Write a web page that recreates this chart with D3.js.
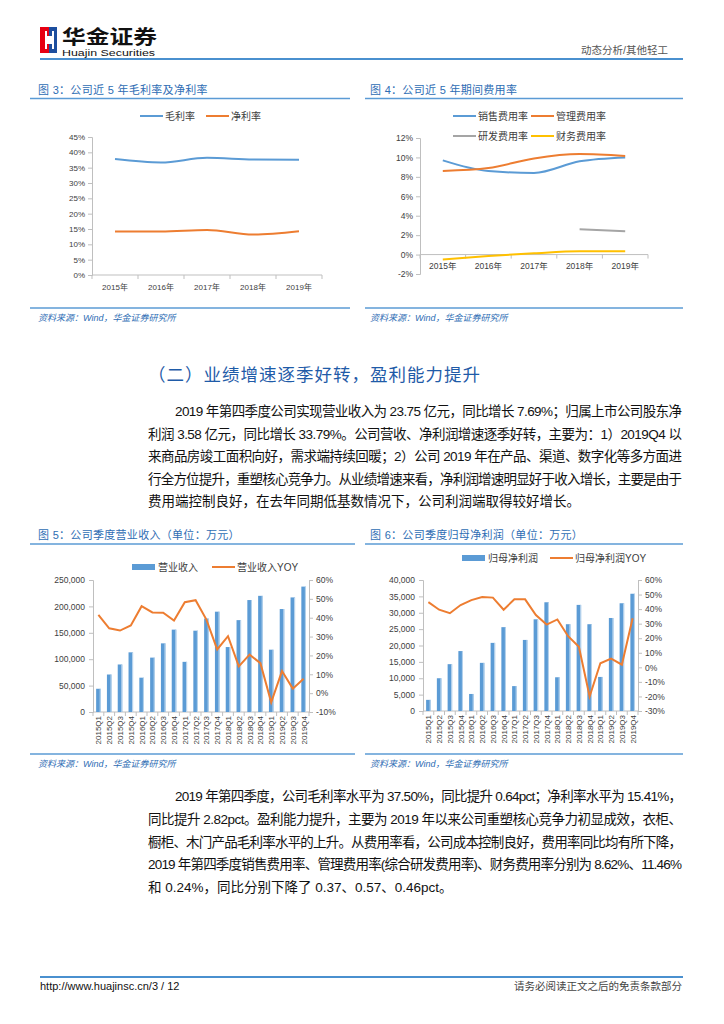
<!DOCTYPE html>
<html><head><meta charset="utf-8">
<script src="https://cdn.jsdelivr.net/npm/d3@7"></script>
<style>
html,body{margin:0;padding:0;background:#fff;}
svg{display:block;font-family:"Liberation Sans","Noto Sans CJK SC",sans-serif;}
</style></head>
<body>
<script>
// ---------- DATA ----------
const years = ["2015年","2016年","2017年","2018年","2019年"];
const grossMargin = [37.8, 36.7, 38.2, 37.7, 37.6];
const netMargin = [14.2, 14.2, 14.7, 13.2, 14.3];
const marginTicks = [0,5,10,15,20,25,30,35,40,45];

const sellingRate = [9.7, 8.6, 8.4, 9.6, 10.0];
const adminRate = [8.6, 8.9, 9.9, 10.35, 10.15];
const rdRate = [null, null, null, 2.6, 2.4];
const financeRate = [-0.5, -0.15, 0.13, 0.33, 0.33];
const expenseTicks = [-2,0,2,4,6,8,10,12];

const quarters = ["2015Q1","2015Q2","2015Q3","2015Q4","2016Q1","2016Q2","2016Q3","2016Q4",
  "2017Q1","2017Q2","2017Q3","2017Q4","2018Q1","2018Q2","2018Q3","2018Q4",
  "2019Q1","2019Q2","2019Q3","2019Q4"];
const revenue = [44000,71000,90000,113000,65000,103000,130000,156000,95000,154000,177000,190000,
  123000,174000,212000,220000,118000,195000,217000,237500];
const revenueYoy = [41.5,34.4,33.2,35.9,46.1,42.8,42.6,38.5,48.2,49.3,39.0,23.2,30.2,14.2,20.4,15.9,-4.9,11.7,2.4,7.69];
const revenueTicks = [0,50000,100000,150000,200000,250000];
const revenueYoyTicks = [-10,0,10,20,30,40,50,60];

const netProfit = [3400,10000,14300,18300,5200,14700,20800,25600,7600,21700,28000,33200,
  10300,26500,32400,26500,10400,28400,32900,35800];
const netProfitYoy = [44.8,39.6,37.2,42.8,46.2,48.3,47.9,39.6,46.7,46.7,35.9,29.4,32.9,21.4,14.1,-20.0,2.8,6.0,1.8,33.79];
const profitTicks = [0,5000,10000,15000,20000,25000,30000,35000,40000];
const profitYoyTicks = [-30,-20,-10,0,10,20,30,40,50,60];

// ---------- STYLE ----------
const BLUE = "#5B9BD5", ORANGE = "#ED7D31", GREY = "#A5A5A5", YELLOW = "#FFC000";
const TITLE = "#2E6DB4", AXIS = "#BFBFBF", LABEL = "#404040";

const svg = d3.select("body").append("svg").attr("width",724).attr("height",1024);

// ---------- HEADER ----------
svg.append("rect").attr("x",40).attr("y",27).attr("width",9).attr("height",26).attr("fill","#E60012");
svg.append("rect").attr("x",49).attr("y",27).attr("width",8).attr("height",26).attr("fill","#1D4E9E");
svg.append("rect").attr("x",47).attr("y",36).attr("width",5).attr("height",8).attr("fill","#fff");
svg.append("rect").attr("x",45).attr("y",31).attr("width",2).attr("height",18).attr("fill","#fff");
svg.append("rect").attr("x",52).attr("y",31).attr("width",2).attr("height",18).attr("fill","#fff");
svg.append("text").attr("x",62).attr("y",44).attr("font-size",19).attr("font-weight","bold")
  .attr("fill","#111").attr("textLength",95).attr("lengthAdjust","spacingAndGlyphs").text("华金证券");
svg.append("text").attr("x",62).attr("y",55.5).attr("font-size",8.5).attr("fill","#111")
  .attr("textLength",93).attr("lengthAdjust","spacingAndGlyphs").text("Huajin Securities");
svg.append("text").attr("x",668).attr("y",54).attr("font-size",10.5).attr("fill","#555")
  .attr("text-anchor","end").text("动态分析/其他轻工");
svg.append("line").attr("x1",40).attr("x2",683).attr("y1",59).attr("y2",59)
  .attr("stroke","#4A90CF").attr("stroke-width",2);

// ---------- HELPERS ----------
function title(x,y,t){
  svg.append("text").attr("x",x).attr("y",y).attr("font-size",11).attr("fill",TITLE)
    .attr("letter-spacing",0.3).text(t);
}
function rule(x1,x2,y){
  svg.append("line").attr("x1",x1).attr("x2",x2).attr("y1",y).attr("y2",y)
    .attr("stroke",BLUE).attr("stroke-width",1.5);
}
function source(x,y){
  svg.append("text").attr("x",x).attr("y",y).attr("font-size",9).attr("fill","#2E6DB4")
    .attr("font-style","italic").text("资料来源：Wind，华金证券研究所");
}
function legendLine(x,y,color,label){
  svg.append("line").attr("x1",x).attr("x2",x+23).attr("y1",y).attr("y2",y)
    .attr("stroke",color).attr("stroke-width",2);
  svg.append("text").attr("x",x+25).attr("y",y+3.5).attr("font-size",10).attr("fill",LABEL).text(label);
}
function legendRect(x,y,color,label){
  svg.append("rect").attr("x",x).attr("y",y-3).attr("width",23).attr("height",6).attr("fill",color);
  svg.append("text").attr("x",x+26).attr("y",y+3.5).attr("font-size",10).attr("fill",LABEL).text(label);
}
function styleAxis(g,fs){
  g.select(".domain").attr("stroke",AXIS);
  g.selectAll(".tick line").attr("stroke",AXIS);
  g.selectAll(".tick text").attr("fill",LABEL).attr("font-size",fs)
    .attr("font-family","Liberation Sans, Noto Sans CJK SC, sans-serif");
}
function bandAxis(xs, y, cats, x0, x1){
  svg.append("line").attr("x1",x0).attr("x2",x1).attr("y1",y).attr("y2",y).attr("stroke",AXIS);
  const bounds = cats.map(c=>xs(c)).concat([x1]);
  svg.selectAll(null).data(bounds).enter().append("line")
    .attr("x1",d=>d).attr("x2",d=>d).attr("y1",y).attr("y2",y+4).attr("stroke",AXIS);
}

// ---------- CHART 3 ----------
title(38,94,"图 3：公司近 5 年毛利率及净利率");
rule(30,350,98.5);
legendLine(140,116,BLUE,"毛利率");
legendLine(206,116,ORANGE,"净利率");
{
  const x = d3.scaleBand().domain(years).range([92,322]);
  const y = d3.scaleLinear().domain([0,45]).range([275,137]);
  const g = svg.append("g").attr("transform","translate(92,0)")
    .call(d3.axisLeft(y).tickValues(marginTicks).tickFormat(d=>d+"%").tickSize(4).tickPadding(3));
  styleAxis(g,8);
  bandAxis(x,275,years,92,322);
  svg.selectAll(null).data(years).enter().append("text")
    .attr("x",d=>x(d)+x.bandwidth()/2).attr("y",290).attr("text-anchor","middle")
    .attr("font-size",8).attr("fill",LABEL).text(d=>d);
  const line = d3.line().x((d,i)=>x(years[i])+x.bandwidth()/2).y(d=>y(d)).curve(d3.curveMonotoneX);
  [[grossMargin,BLUE],[netMargin,ORANGE]].forEach(([s,c])=>{
    svg.append("path").attr("d",line(s)).attr("fill","none").attr("stroke",c).attr("stroke-width",2);
  });
}
rule(30,350,308);
source(38,321);

// ---------- CHART 4 ----------
title(370,94,"图 4：公司近 5 年期间费用率");
rule(365,683,98.5);
legendLine(453,116,BLUE,"销售费用率");
legendLine(531,116,ORANGE,"管理费用率");
legendLine(453,136,GREY,"研发费用率");
legendLine(531,136,YELLOW,"财务费用率");
{
  const x = d3.scaleBand().domain(years).range([420,648]);
  const y = d3.scaleLinear().domain([-2,12]).range([274,138]);
  const g = svg.append("g").attr("transform","translate(420,0)")
    .call(d3.axisLeft(y).tickValues(expenseTicks).tickFormat(d=>d+"%").tickSize(4).tickPadding(3));
  styleAxis(g,8.5);
  bandAxis(x,y(0),years,420,648);
  svg.selectAll(null).data(years).enter().append("text")
    .attr("x",d=>x(d)+x.bandwidth()/2).attr("y",y(0)+14).attr("text-anchor","middle")
    .attr("font-size",8.5).attr("fill",LABEL).text(d=>d);
  const line = d3.line().defined(d=>d!=null)
    .x((d,i)=>x(years[i])+x.bandwidth()/2).y(d=>y(d)).curve(d3.curveMonotoneX);
  [[sellingRate,BLUE],[adminRate,ORANGE],[rdRate,GREY],[financeRate,YELLOW]].forEach(([s,c])=>{
    svg.append("path").attr("d",line(s)).attr("fill","none").attr("stroke",c).attr("stroke-width",2);
  });
}
rule(365,683,308);
source(370,321);

// ---------- SECTION HEADING ----------
svg.append("text").attr("x",148).attr("y",381).attr("font-size",17.5).attr("fill","#1F5BA8")
  .attr("textLength",332).attr("lengthAdjust","spacing").text("（二）业绩增速逐季好转，盈利能力提升");

// ---------- PARAGRAPHS ----------
function para(lines, ys){
  lines.forEach((t,i)=>{
    const first = i===0, last = i===lines.length-1;
    const x0 = first?175:148;
    const tx = svg.append("text").attr("x",x0).attr("y",ys[i]).attr("font-size",13.5).attr("fill","#111").text(t);
    if(!last) tx.attr("textLength",682-x0).attr("lengthAdjust","spacing");
  });
}
para([
  "2019 年第四季度公司实现营业收入为 23.75 亿元，同比增长 7.69%；归属上市公司股东净",
  "利润 3.58 亿元，同比增长 33.79%。公司营收、净利润增速逐季好转，主要为：1）2019Q4 以",
  "来商品房竣工面积向好，需求端持续回暖；2）公司 2019 年在产品、渠道、数字化等多方面进",
  "行全方位提升，重塑核心竞争力。从业绩增速来看，净利润增速明显好于收入增长，主要是由于",
  "费用端控制良好，在去年同期低基数情况下，公司利润端取得较好增长。"
],[416,438.5,461,483.5,506]);

para([
  "2019 年第四季度，公司毛利率水平为 37.50%，同比提升 0.64pct；净利率水平为 15.41%，",
  "同比提升 2.82pct。盈利能力提升，主要为 2019 年以来公司重塑核心竞争力初显成效，衣柜、",
  "橱柜、木门产品毛利率水平的上升。从费用率看，公司成本控制良好，费用率同比均有所下降，",
  "2019 年第四季度销售费用率、管理费用率(综合研发费用率)、财务费用率分别为 8.62%、11.46%",
  "和 0.24%，同比分别下降了 0.37、0.57、0.46pct。"
],[801,824,846.5,869,891.5]);

// ---------- BAR+LINE CHART HELPER ----------
function comboChart(o){
  const x = d3.scaleBand().domain(quarters).range([o.x0,o.x1]);
  const yL = d3.scaleLinear().domain([o.lTicks[0],o.lTicks[o.lTicks.length-1]]).range([o.yb,o.yt]);
  const yR = d3.scaleLinear().domain([o.rTicks[0],o.rTicks[o.rTicks.length-1]]).range([o.yb,o.yt]);
  const gl = svg.append("g").attr("transform",`translate(${o.x0},0)`)
    .call(d3.axisLeft(yL).tickValues(o.lTicks).tickFormat(d3.format(",")).tickSize(4).tickPadding(4));
  styleAxis(gl,8.5);
  const gr = svg.append("g").attr("transform",`translate(${o.x1},0)`)
    .call(d3.axisRight(yR).tickValues(o.rTicks).tickFormat(d=>d+"%").tickSize(4).tickPadding(3));
  styleAxis(gr,8.5);
  bandAxis(x,o.yb,quarters,o.x0,o.x1);
  const bw = x.bandwidth()*0.42;
  const cx = d=>x(d)+x.bandwidth()/2;
  svg.selectAll(null).data(o.bars).enter().append("rect")
    .attr("x",(d,i)=>cx(quarters[i])-bw/2).attr("y",d=>yL(d)).attr("width",bw)
    .attr("height",d=>o.yb-yL(d)).attr("fill",BLUE);
  svg.selectAll(null).data(o.bars).enter().append("rect")
    .attr("x",(d,i)=>cx(quarters[i])+bw/2-1).attr("y",d=>yL(d)).attr("width",1)
    .attr("height",d=>o.yb-yL(d)).attr("fill","#BDD7EE");
  const line = d3.line().x((d,i)=>cx(quarters[i])).y(d=>yR(d));
  svg.append("path").attr("d",line(o.yoy)).attr("fill","none").attr("stroke",ORANGE).attr("stroke-width",2);
  svg.selectAll(null).data(quarters).enter().append("text")
    .attr("transform",d=>`translate(${cx(d)+3},${o.yb+4}) rotate(-90)`)
    .attr("text-anchor","end").attr("font-size",8).attr("fill",LABEL).text(d=>d);
}

// ---------- CHART 5 ----------
title(38,539,"图 5：公司季度营业收入（单位：万元）");
rule(30,355,544);
legendRect(132,567,BLUE,"营业收入");
legendLine(212,567,ORANGE,"营业收入YOY");
comboChart({x0:93,x1:309,yt:580,yb:712,bars:revenue,yoy:revenueYoy,lTicks:revenueTicks,rTicks:revenueYoyTicks});
rule(30,355,754);
source(38,767);

// ---------- CHART 6 ----------
title(370,539,"图 6：公司季度归母净利润（单位：万元）");
rule(365,683,544);
legendRect(462,558,BLUE,"归母净利润");
legendLine(550,558,ORANGE,"归母净利润YOY");
comboChart({x0:423,x1:638,yt:580,yb:711,bars:netProfit,yoy:netProfitYoy,lTicks:profitTicks,rTicks:profitYoyTicks});
rule(365,683,754);
source(370,767);

// ---------- FOOTER ----------
svg.append("line").attr("x1",40).attr("x2",683).attr("y1",977).attr("y2",977)
  .attr("stroke","#4A90CF").attr("stroke-width",2);
svg.append("text").attr("x",40).attr("y",990).attr("font-size",11).attr("fill","#111")
  .text("http://www.huajinsc.cn/3 / 12");
svg.append("text").attr("x",682).attr("y",990).attr("font-size",10.5).attr("fill","#444")
  .attr("text-anchor","end").text("请务必阅读正文之后的免责条款部分");
</script>
</body></html>
